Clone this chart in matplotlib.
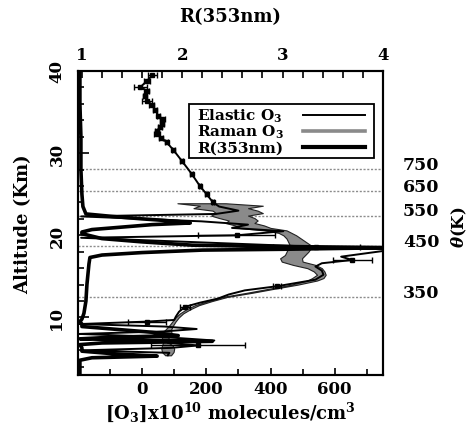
import numpy as np
import matplotlib
matplotlib.use('Agg')
import matplotlib.pyplot as plt
from matplotlib.patches import Rectangle

plt.rcParams['font.family'] = ['DejaVu Serif']
plt.rcParams['font.weight'] = 'bold'
plt.rcParams['axes.labelweight'] = 'bold'
plt.rcParams['mathtext.fontset'] = 'custom'
plt.rcParams['mathtext.rm'] = 'DejaVu Serif:bold'
plt.rcParams['mathtext.it'] = 'DejaVu Serif:italic:bold'
plt.rcParams['mathtext.default'] = 'rm'

# elastic O3 (thin line, error bars)
alt_el = [39.5, 38.8, 38.0, 37.6, 37.0, 36.4, 35.9, 35.3, 34.5, 34.1, 33.5, 33.2, 32.7, 32.3, 31.9,
          31.3, 30.4, 29.1, 27.5, 26.0, 25.0, 24.0,
          23.5, 23.0, 22.6, 22.3, 21.7, 21.3, 20.9, 20.5, 20.0, 19.7,
          18.6, 18.3, 17.4, 17.0, 16.6, 16.2, 15.7, 15.2, 14.6, 14.2,
          13.8, 13.3, 12.8, 12.3, 11.8, 11.3, 10.7, 10.1, 9.7, 9.5,
          9.2, 8.9, 8.6, 8.3, 8.0, 7.6, 7.2, 6.9, 6.6, 6.3,
          6.0, 5.7, 5.4]
o3_el = [32, 15, -6, 15, 9, 15, 30, 40, 51, 63, 61, 56, 46, 46, 59,
         77, 97, 123, 154, 180, 201, 221,
         240, 300, 230, -190, 185, 330, 280, 440, 295, -190,
         543, 790, 620, 655, 560, 540, 560, 565, 540, 480,
         420, 320, 270, 236, 180, 134, 115, 105, 100, 15,
         -195, 70, 170, 65, -195, 75, 225, 80, 174, 90,
         -190, 85, 80]
nan = np.nan
err_el = [15, 10, 20, 8, 6, 15, 8, 6, 6, 8, 6, 6, 6, 10, 6,
          5, 5, 4, 4, 4, 4, 4,
          nan, nan, nan, nan, nan, nan, nan, nan, 120, nan,
          135, nan, nan, 60, nan, nan, nan, nan, nan, nan,
          12, nan, nan, nan, nan, 15, nan, nan, nan, 58,
          nan, nan, nan, nan, nan, nan, nan, nan, 146, nan,
          nan, nan, nan]

# Raman O3 (grey band)
alt_ra = [23.9, 23.6, 23.3, 23.0, 22.7, 22.4, 22.1, 21.8, 21.5, 21.2,
          20.9, 20.6, 20.3, 20.0, 19.6, 19.2, 18.8, 18.4, 18.0, 17.6,
          17.2, 16.8, 16.4, 16.0, 15.6, 15.2, 14.8, 14.5, 14.0, 13.5,
          13.0, 12.5, 12.0, 11.5, 11.0, 10.5, 10.0, 9.5, 9.0, 8.5,
          8.0, 7.5, 7.0, 6.6, 6.2, 5.8, 5.4]
ra_lo = [110, 180, 160, 220, 230, 215, 240, 270, 260, 290,
         300, 380, 425, 440, 450, 455, 460, 455, 450, 445,
         430, 435, 470, 515, 535, 545, 530, 515, 465, 395,
         325, 250, 205, 165, 138, 118, 104, 94, 84, 72,
         58, 62, 66, 62, 60, 62, 72]
ra_hi = [260, 376, 330, 360, 376, 330, 350, 360, 350, 380,
         400, 450, 465, 480, 495, 510, 525, 525, 518, 508,
         498, 500, 540, 560, 568, 572, 565, 545, 485, 412,
         342, 265, 218, 177, 150, 128, 114, 104, 96, 90,
         92, 82, 80, 95, 100, 98, 90]

# backscatter ratio R(353nm)
alt_R = [40, 36, 32, 28, 25, 23.5, 22.6, 22.3, 22.0, 21.7,
         21.5, 21.3, 21.0, 20.7, 20.4, 20.2, 19.6, 19.2, 18.8, 18.7,
         18.6, 18.5, 18.3, 18.2, 17.9, 17.6, 17.3, 16.5, 14.0, 12.0,
         10.5, 9.8, 9.5, 9.2, 8.9, 8.6, 8.2, 7.8, 7.6, 7.4,
         7.1, 6.9, 6.7, 6.3, 5.9, 5.6, 5.3, 5.1, 4.8, 3.0]
R_val = [0.98, 0.98, 0.99, 0.99, 1.0, 1.01, 1.04, 1.3, 1.6, 1.95,
         2.08, 1.7, 1.4, 1.1, 1.0, 1.0, 1.2, 1.6, 2.1, 2.6,
         3.3, 4.1, 3.0, 2.2, 1.6, 1.2, 1.08, 1.07, 1.05, 1.04,
         1.02, 1.0, 0.98, 1.0, 1.0, 1.3, 1.7, 1.96, 1.3, 0.98,
         2.3, 1.2, 0.98, 1.0, 1.0, 1.3, 1.75, 1.1, 0.98, 0.98]

# potential temperature levels
theta_alt = [28.05, 25.4, 22.4, 18.7, 12.5]
theta_lab = ['750', '650', '550', '450', '350']

fig = plt.figure(figsize=(4.75, 4.35), dpi=100)
ax = fig.add_axes([0.164, 0.1356, 0.642, 0.699])
ax.set_xlim(-200, 750)
ax.set_ylim(3, 40)

for a, lab in zip(theta_alt, theta_lab):
    ax.axhline(a, color='#8c8c8c', lw=1, ls=(0, (1.5, 1.2)), zorder=1)
    ax.text(1.066, a + 0.6, lab, transform=ax.get_yaxis_transform(),
            va='center', ha='left', fontsize=12.5)
ax.text(1.25, 0.49, r'$\mathit{\theta}$(K)', transform=ax.transAxes, rotation=90,
        va='center', ha='center', fontsize=12)

ax.fill_betweenx(alt_ra, ra_lo, ra_hi, facecolor='#8a8a8a', edgecolor='#222222', lw=0.8, zorder=2)

ax.plot(o3_el, alt_el, color='k', lw=1.4, zorder=3)
err = np.array(err_el)
m = ~np.isnan(err)
ax.errorbar(np.array(o3_el)[m], np.array(alt_el)[m], xerr=err[m], fmt='s', ms=3,
            color='k', capsize=2.5, elinewidth=1, zorder=4)

ax.set_xticks([0, 200, 400, 600])
ax.set_xticks([-100, 100, 300, 500, 700], minor=True)
ax.set_yticks([10, 20, 30, 40])
ax.set_yticks(np.arange(4, 40, 2), minor=True)
ax.tick_params(which='both', direction='in', labelsize=12, width=1.2)
ax.tick_params(which='major', length=5)
ax.tick_params(which='minor', length=4)
ax.tick_params(axis='y', which='major', length=8, pad=9)
for t in ax.get_yticklabels():
    t.set_rotation(90)
    t.set_va('center')
ax.set_xlabel(r'[O$_3$]x10$^{10}$ molecules/cm$^3$', fontsize=13, labelpad=2)
ax.set_ylabel('Altitude (Km)', fontsize=13, labelpad=12)

axR = ax.twiny()
axR.set_xlim(0.96, 4.0)
axR.plot(R_val, alt_R, color='k', lw=2.6, zorder=5)
axR.set_xticks([1, 2, 3, 4])
axR.set_xticks(np.arange(1.2, 4.0, 0.2), minor=True)
axR.tick_params(which='both', direction='in', labelsize=12, width=1.2, length=5, pad=6)
axR.set_xlabel('R(353nm)', fontsize=13, labelpad=18)

for a in (ax, axR):
    for s in a.spines.values():
        s.set_linewidth(1.5)

# legend box drawn by hand so the labels stay left-aligned
axR.add_patch(Rectangle((0.364, 0.714), 0.606, 0.177, transform=ax.transAxes,
                        facecolor='white', edgecolor='k', lw=1.3, zorder=6))
leg_txt = [r'Elastic O$_3$', r'Raman O$_3$', 'R(353nm)']
leg_sty = [('k', 1.4), ('#8a8a8a', 2.6), ('k', 3.0)]
for i, (txt, (c, w)) in enumerate(zip(leg_txt, leg_sty)):
    yy = 0.855 - i * 0.053
    axR.text(0.39, yy, txt, transform=ax.transAxes, va='center', ha='left',
             fontsize=11, zorder=7)
    axR.plot([0.738, 0.941], [yy, yy], transform=ax.transAxes, color=c, lw=w, zorder=7)

fig.savefig('out.png', dpi=100)
